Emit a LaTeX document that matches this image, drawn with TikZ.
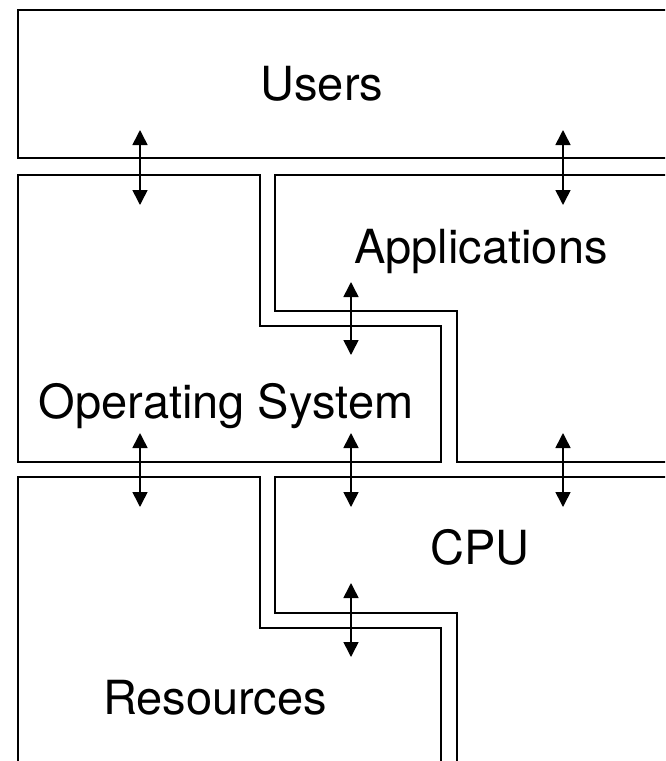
\documentclass[tikz,border=0pt]{standalone}
\usepackage{fontspec}
\setmainfont{TeX Gyre Heros}
\usetikzlibrary{arrows.meta}
\begin{document}
\begin{tikzpicture}[x=1pt,y=-1pt,
  wall/.style={line width=1.6pt},
  link/.style={line width=1.6pt,{Triangle[width=15pt,length=15pt]}-{Triangle[width=15pt,length=15pt]}},
  lbl/.style={anchor=base,inner sep=0pt,font=\fontsize{47}{50}\selectfont}]
\useasboundingbox (0,0) rectangle (665,761);
\clip (0,0) rectangle (665,761);
% Users
\draw[wall] (720,10) -- (18,10) -- (18,158) -- (720,158);
% Operating System
\draw[wall] (18,175) -- (260,175) -- (260,326) -- (441,326) -- (441,462) -- (18,462) -- cycle;
% Applications
\draw[wall] (720,175) -- (275,175) -- (275,311) -- (457,311) -- (457,462) -- (720,462);
% Resources
\draw[wall] (18,800) -- (18,477) -- (260,477) -- (260,628) -- (441,628) -- (441,800);
% CPU
\draw[wall] (720,477) -- (275,477) -- (275,613) -- (457,613) -- (457,800);
% labels
\node[lbl] (users) at (322,100) {Users};
\node[lbl] (apps) at (481,263) {Applications};
\node[lbl] (os) at (226,418) {Operating System};
\node[lbl] (cpu) at (480,564) {CPU};
\node[lbl] (res) at (215,714) {Resources};
% arrow ends
\coordinate (a1t) at (140,130); \coordinate (a1b) at (140,205);
\coordinate (a2t) at (563,130); \coordinate (a2b) at (563,205);
\coordinate (a3t) at (351,282); \coordinate (a3b) at (351,355);
\coordinate (a4t) at (140,433); \coordinate (a4b) at (140,507);
\coordinate (a5t) at (351,433); \coordinate (a5b) at (351,507);
\coordinate (a6t) at (563,433); \coordinate (a6b) at (563,507);
\coordinate (a7t) at (351,583); \coordinate (a7b) at (351,657);
\draw[link] (a1t) -- (a1b);
\draw[link] (a2t) -- (a2b);
\draw[link] (a3t) -- (a3b);
\draw[link] (a4t) -- (a4b);
\draw[link] (a5t) -- (a5b);
\draw[link] (a6t) -- (a6b);
\draw[link] (a7t) -- (a7b);
\end{tikzpicture}
\end{document}
